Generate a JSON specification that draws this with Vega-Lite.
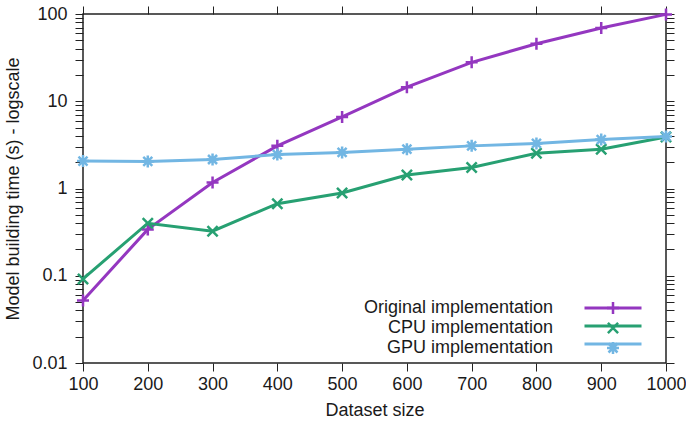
{
  "$schema": "https://vega.github.io/schema/vega-lite/v6.json",
  "width": 583,
  "height": 349,
  "autosize": {"type": "none"},
  "padding": {"left": 83, "top": 14, "right": 20, "bottom": 64},
  "background": "white",
  "config": {
    "font": "Liberation Sans",
    "view": {"stroke": "#222", "strokeWidth": 1.5},
    "axis": {
      "grid": false,
      "domain": false,
      "ticks": true,
      "tickColor": "#222",
      "tickWidth": 1,
      "labelFont": "Liberation Sans",
      "labelFontSize": 18,
      "labelColor": "#1a1a1a",
      "titleFont": "Liberation Sans",
      "titleFontSize": 18,
      "titleFontWeight": "normal",
      "titleColor": "#1a1a1a"
    }
  },
  "data": {
    "values": [
      {"series": "Original implementation", "size": 100, "time": 0.052},
      {"series": "Original implementation", "size": 200, "time": 0.34},
      {"series": "Original implementation", "size": 300, "time": 1.17},
      {"series": "Original implementation", "size": 400, "time": 3.08},
      {"series": "Original implementation", "size": 500, "time": 6.6},
      {"series": "Original implementation", "size": 600, "time": 14.5},
      {"series": "Original implementation", "size": 700, "time": 27.9},
      {"series": "Original implementation", "size": 800, "time": 45.6},
      {"series": "Original implementation", "size": 900, "time": 69},
      {"series": "Original implementation", "size": 1000, "time": 99},
      {"series": "CPU implementation", "size": 100, "time": 0.092},
      {"series": "CPU implementation", "size": 200, "time": 0.4},
      {"series": "CPU implementation", "size": 300, "time": 0.324},
      {"series": "CPU implementation", "size": 400, "time": 0.67},
      {"series": "CPU implementation", "size": 500, "time": 0.89},
      {"series": "CPU implementation", "size": 600, "time": 1.43},
      {"series": "CPU implementation", "size": 700, "time": 1.74},
      {"series": "CPU implementation", "size": 800, "time": 2.54},
      {"series": "CPU implementation", "size": 900, "time": 2.82},
      {"series": "CPU implementation", "size": 1000, "time": 3.9},
      {"series": "GPU implementation", "size": 100, "time": 2.06},
      {"series": "GPU implementation", "size": 200, "time": 2.04},
      {"series": "GPU implementation", "size": 300, "time": 2.15},
      {"series": "GPU implementation", "size": 400, "time": 2.45},
      {"series": "GPU implementation", "size": 500, "time": 2.59},
      {"series": "GPU implementation", "size": 600, "time": 2.82},
      {"series": "GPU implementation", "size": 700, "time": 3.08},
      {"series": "GPU implementation", "size": 800, "time": 3.28},
      {"series": "GPU implementation", "size": 900, "time": 3.64},
      {"series": "GPU implementation", "size": 1000, "time": 3.95}
    ]
  },
  "layer": [
    {
      "mark": {"type": "line", "strokeWidth": 3},
      "encoding": {
        "x": {
          "field": "size", "type": "quantitative",
          "scale": {"domain": [100, 1000], "nice": false, "zero": false},
          "axis": {
            "orient": "bottom",
            "values": [100, 200, 300, 400, 500, 600, 700, 800, 900, 1000],
            "tickSize": 8,
            "labelPadding": 4,
            "format": "d",
            "title": "Dataset size",
            "titlePadding": 8,
            "labelFlush": false,
            "labelOverlap": false,
            "encode": {"ticks": {"y2": {"value": -8}}}
          }
        },
        "y": {
          "field": "time", "type": "quantitative",
          "scale": {"type": "log", "domain": [0.01, 100], "nice": false},
          "axis": {
            "orient": "left",
            "values": [0.01, 0.02, 0.03, 0.04, 0.05, 0.06, 0.07, 0.08, 0.09, 0.1, 0.2, 0.3, 0.4, 0.5, 0.6, 0.7, 0.8, 0.9, 1, 2, 3, 4, 5, 6, 7, 8, 9, 10, 20, 30, 40, 50, 60, 70, 80, 90, 100],
            "tickSize": 8,
            "labelExpr": "indexof([0.01, 0.1, 1, 10, 100], datum.value) >= 0 ? (datum.value < 1 ? '' + datum.value : format(datum.value, 'd')) : ''",
            "labelPadding": 8,
            "labelFlush": false,
            "labelOverlap": false,
            "title": "Model building time (s) - logscale",
            "titlePadding": 9,
            "encode": {"ticks": {"x2": {"condition": {"test": "indexof([0.01, 0.1, 1, 10, 100], datum.value) >= 0", "value": 8}, "value": 4}}}
          }
        },
        "stroke": {
          "field": "series", "type": "nominal",
          "sort": ["Original implementation", "CPU implementation", "GPU implementation"],
          "scale": {"range": ["#9437c0", "#27a072", "#72b6e3"]},
          "legend": {
            "orient": "none",
            "legendX": 521,
            "legendY": 285,
            "padding": 0,
            "title": null,
            "direction": "vertical",
            "symbolType": "M-4.75,0L4.75,0",
            "symbolSize": 144,
            "symbolStrokeWidth": 3,
            "symbolFillColor": "transparent",
            "labelFont": "Liberation Sans",
            "labelFontSize": 18,
            "labelExpr": "' '",
            "rowPadding": -3
          }
        }
      }
    },
    {
      "mark": {"type": "point", "filled": false, "strokeWidth": 2.5, "size": 144, "opacity": 1},
      "encoding": {
        "x": {
          "field": "size", "type": "quantitative",
          "axis": {
            "orient": "top",
            "values": [100, 200, 300, 400, 500, 600, 700, 800, 900, 1000],
            "tickSize": 8,
            "labels": false,
            "title": null,
            "encode": {"ticks": {"y2": {"value": 8}}}
          }
        },
        "y": {
          "field": "time", "type": "quantitative",
          "axis": {
            "orient": "right",
            "values": [0.01, 0.02, 0.03, 0.04, 0.05, 0.06, 0.07, 0.08, 0.09, 0.1, 0.2, 0.3, 0.4, 0.5, 0.6, 0.7, 0.8, 0.9, 1, 2, 3, 4, 5, 6, 7, 8, 9, 10, 20, 30, 40, 50, 60, 70, 80, 90, 100],
            "tickSize": 8,
            "labels": false,
            "title": null,
            "encode": {"ticks": {"x2": {"condition": {"test": "indexof([0.01, 0.1, 1, 10, 100], datum.value) >= 0", "value": -8}, "value": -4}}}
          }
        },
        "color": {
          "field": "series", "type": "nominal",
          "scale": {"domain": ["Original implementation", "CPU implementation", "GPU implementation"], "range": ["#9437c0", "#27a072", "#72b6e3"]},
          "legend": {
            "orient": "none",
            "legendX": 521,
            "legendY": 285,
            "padding": 0,
            "title": null,
            "direction": "vertical",
            "labelFont": "Liberation Sans",
            "labelFontSize": 18,
            "labelColor": "#1a1a1a",
            "labelAlign": "right",
            "labelOffset": -69,
            "labelLimit": 400,
            "symbolSize": 144,
            "symbolStrokeWidth": 2.5,
            "symbolOpacity": 1,
            "rowPadding": -3
          }
        },
        "shape": {
          "field": "series", "type": "nominal",
          "scale": {
            "domain": ["Original implementation", "CPU implementation", "GPU implementation"],
            "range": [
              "M-1,0L1,0M0,-1L0,1",
              "M-0.85,-0.85L0.85,0.85M-0.85,0.85L0.85,-0.85",
              "M-1,0L1,0M0,-1L0,1M-0.75,-0.75L0.75,0.75M-0.75,0.75L0.75,-0.75"
            ]
          }
        }
      }
    }
  ],
  "resolve": {"axis": {"x": "independent", "y": "independent"}}
}
